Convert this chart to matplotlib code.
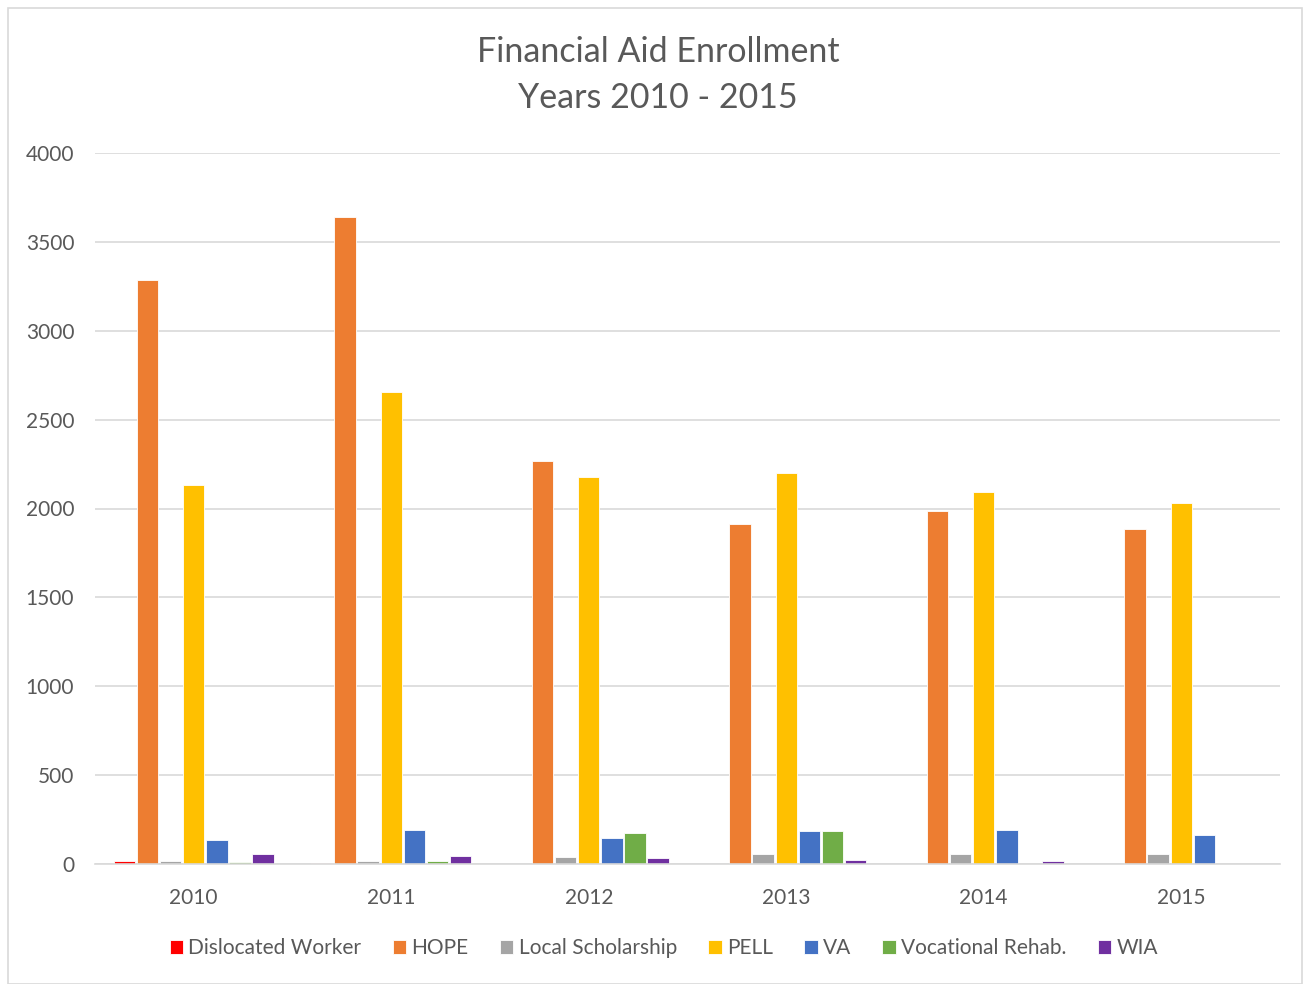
import matplotlib.pyplot as plt
import numpy as np
from matplotlib.patches import Rectangle

years = ['2010', '2011', '2012', '2013', '2014', '2015']
series = ['Dislocated Worker', 'HOPE', 'Local Scholarship', 'PELL', 'VA',
          'Vocational Rehab.', 'WIA']
dislocated = [15, 3, 0, 0, 0, 0]
hope = [3285, 3640, 2267, 1912, 1986, 1884]
local_sch = [19, 17, 39, 56, 58, 58]
pell = [2132, 2655, 2177, 2200, 2093, 2031]
va = [133, 191, 146, 187, 191, 161]
voc_rehab = [13, 15, 173, 184, 0, 0]
wia = [55, 47, 32, 22, 15, 0]
colors = ['#FF0000', '#ED7D31', '#A5A5A5', '#FFC000', '#4472C4', '#70AD47', '#7030A0']

values = [dislocated, hope, local_sch, pell, va, voc_rehab, wia]

plt.rcParams['font.family'] = ['Lato', 'DejaVu Sans']
txt = '#595959'

fig = plt.figure(figsize=(13.1, 9.84), dpi=100)
ax = fig.add_axes([95 / 1310, 1 - 864 / 984, 1185 / 1310, 711 / 984])

# border around chart area
fig.patches.append(Rectangle((8 / 1310, 0), 1294 / 1310, 976 / 984, transform=fig.transFigure,
                             fill=False, edgecolor='#D9D9D9', linewidth=1.2))

x = np.arange(len(years))
slot = 0.117
for i, (name, vals) in enumerate(zip(series, values)):
    offs = (i - 3) * slot
    ax.bar(x + offs, vals, slot * 0.93, color=colors[i], edgecolor='white', linewidth=0.6,
           label=name, zorder=3)

ax.set_xlim(-0.5, 5.5)
ax.set_ylim(0, 4000)
ax.set_yticks(range(0, 4001, 500))
ax.set_xticks(x)
ax.set_xticklabels(years)
ax.grid(axis='y', color='#D9D9D9', linewidth=1.2, zorder=0)
for s in ['top', 'right', 'left']:
    ax.spines[s].set_visible(False)
ax.spines['bottom'].set_color('#D9D9D9')
ax.spines['bottom'].set_linewidth(1.2)
ax.spines['bottom'].set_zorder(5)
ax.tick_params(axis='both', length=0, labelsize=15, labelcolor=txt)
ax.tick_params(axis='y', pad=15)
ax.tick_params(axis='x', pad=17)

fig.text(658 / 1310, 1 - 75 / 984, 'Financial Aid Enrollment\nYears 2010 - 2015', ha='center', va='center',
         fontsize=24.5, color=txt, linespacing=1.55)

ax.legend(loc='center', bbox_to_anchor=(0.48, -0.118), ncol=7, frameon=False, fontsize=15,
          labelcolor=txt, handlelength=0.65, handleheight=0.65, handletextpad=0.25, columnspacing=1.5)

plt.savefig('out.png', dpi=100)
